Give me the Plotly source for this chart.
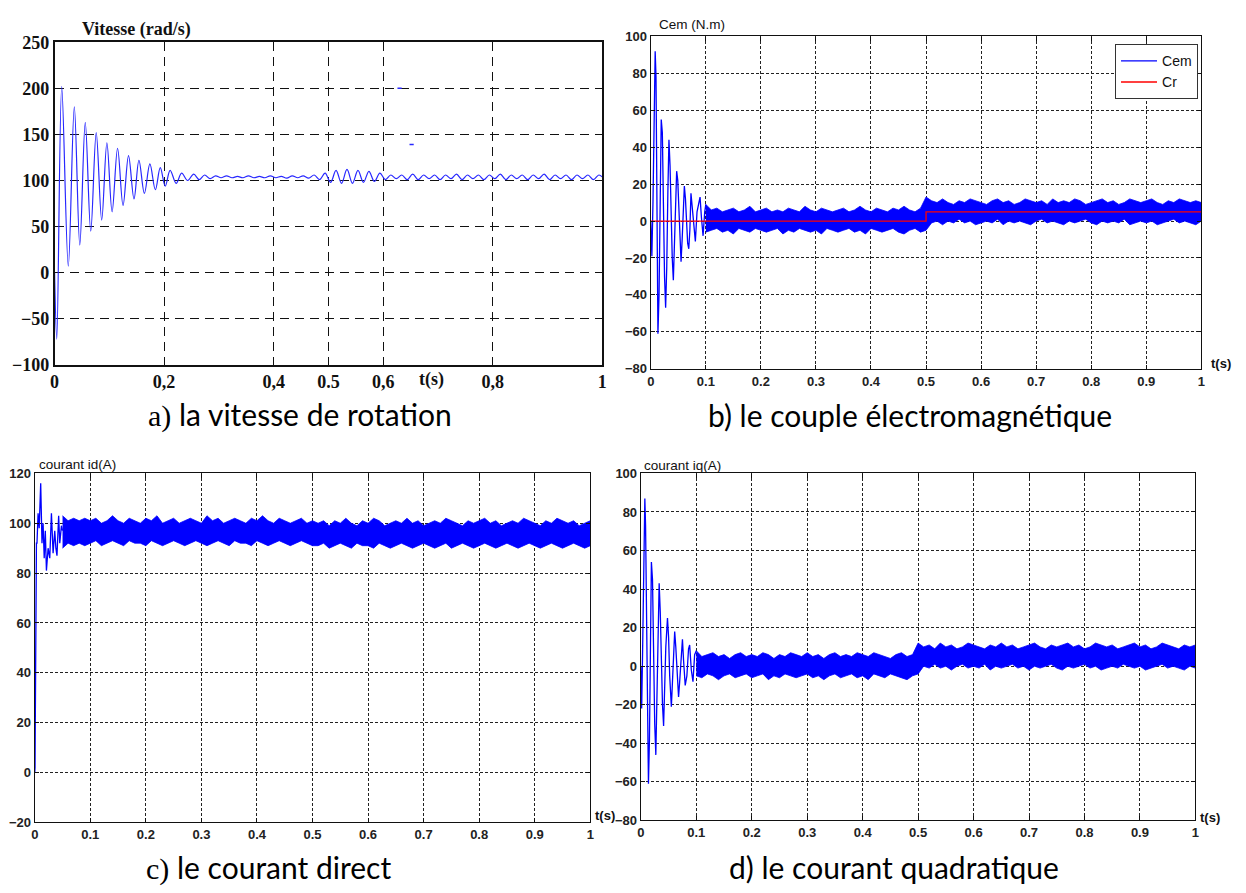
import plotly.graph_objects as go

W, H = 1246, 893

# ---------------- DATA ----------------
# a) speed (rad/s): peaks / troughs
T_A = [0, 0.004, 0.013, 0.025, 0.036, 0.046, 0.056, 0.066, 0.076, 0.086, 0.0955, 0.105,
       0.115, 0.125, 0.135, 0.145, 0.154, 0.164, 0.174, 0.184, 0.193, 0.202, 0.211, 0.222,
       0.232, 0.243, 0.254, 0.264,
       0.274, 0.284, 0.294, 0.304, 0.314, 0.324, 0.334, 0.344, 0.354, 0.364,
       0.374, 0.384, 0.394, 0.404, 0.414, 0.424, 0.434, 0.444, 0.454, 0.464,
       0.474, 0.484, 0.494, 0.504, 0.514, 0.524, 0.534, 0.544, 0.554, 0.564,
       0.574, 0.584, 0.594, 0.604, 0.614, 0.624, 0.634, 0.644, 0.654, 0.664,
       0.674, 0.684, 0.694, 0.704, 0.714, 0.724, 0.734, 0.744, 0.754, 0.764,
       0.774, 0.784, 0.794, 0.804, 0.814, 0.824, 0.834, 0.844, 0.854, 0.864,
       0.874, 0.884, 0.894, 0.904, 0.914, 0.924, 0.934, 0.944, 0.954, 0.964,
       0.974, 0.984, 0.994, 1.0]
W_A = [0, -72, 202, 7, 180, 30, 163, 45, 152, 57, 141, 66,
       135, 73, 127, 80, 122, 86, 118, 90, 114, 94, 111, 97,
       108, 100, 107, 101,
       106, 102, 105, 103, 105, 103, 104.5, 103, 105, 103,
       104.5, 103, 105, 103, 104.5, 102.5, 105, 103, 105, 102.5,
       106, 101, 108, 98, 111, 97, 112, 97, 111, 98,
       110, 99, 108, 101, 106, 102, 106, 101, 107, 101,
       106, 102, 106, 101, 106, 102, 107, 101, 106, 102,
       106, 101, 106, 102, 107, 101, 106, 102, 106, 101,
       106, 102, 107, 101, 106, 102, 106, 101, 106, 102,
       106, 101, 106, 104]
T_A_DOTS = [0.63, 0.652]
W_A_DOTS = [200, 139]

# b) electromagnetic torque (N.m): transient
T_B = [0, 0.002, 0.004, 0.006, 0.008, 0.0095, 0.011, 0.013, 0.015, 0.017, 0.019, 0.021,
       0.023, 0.025, 0.027, 0.029, 0.031, 0.033, 0.035, 0.037, 0.039, 0.041, 0.043, 0.045,
       0.047, 0.049, 0.051, 0.053, 0.055, 0.057, 0.059, 0.061, 0.063, 0.065, 0.067, 0.069,
       0.071, 0.073, 0.075, 0.078, 0.081, 0.084, 0.087, 0.0895, 0.092, 0.095, 0.098, 0.10]
CEM_B = [0, -19, 10, 60, 92, 78, 10, -61, -40, 20, 55, 48,
         5, -30, -47, -25, 15, 44, 30, 0, -20, -32, -15, 10,
         27, 22, 5, -15, -22, -10, 8, 19, 12, 0, -12, -15,
         -5, 15, 8, -2, -11, 5, 10, 13, 2, -8, 5, 9]

# common time grid of the noisy bands (b, d)
T_BAND = [0.10, 0.11, 0.12, 0.13, 0.14, 0.15, 0.16, 0.17, 0.18, 0.19,
          0.20, 0.21, 0.22, 0.23, 0.24, 0.25, 0.26, 0.27, 0.28, 0.29,
          0.30, 0.31, 0.32, 0.33, 0.34, 0.35, 0.36, 0.37, 0.38, 0.39,
          0.40, 0.41, 0.42, 0.43, 0.44, 0.45, 0.46, 0.47, 0.48, 0.49,
          0.50, 0.51, 0.52, 0.53, 0.54, 0.55, 0.56, 0.57, 0.58, 0.59,
          0.60, 0.61, 0.62, 0.63, 0.64, 0.65, 0.66, 0.67, 0.68, 0.69,
          0.70, 0.71, 0.72, 0.73, 0.74, 0.75, 0.76, 0.77, 0.78, 0.79,
          0.80, 0.81, 0.82, 0.83, 0.84, 0.85, 0.86, 0.87, 0.88, 0.89,
          0.90, 0.91, 0.92, 0.93, 0.94, 0.95, 0.96, 0.97, 0.98, 0.99,
          1.00]
CEM_UP = [9, 6, 7, 5, 6, 7, 5, 6, 8, 5,
          6, 7, 5, 6, 5, 7, 6, 5, 8, 6,
          5, 7, 6, 5, 6, 7, 5, 6, 8, 6,
          5, 7, 6, 5, 7, 6, 8, 6, 5, 7,
          13, 11, 10, 12, 10, 9, 11, 10, 12, 11,
          10, 9, 11, 12, 10, 11, 9, 10, 12, 11,
          10, 11, 9, 12, 10, 11, 10, 12, 11, 9,
          10, 11, 12, 10, 11, 9, 10, 12, 11, 10,
          11, 12, 10, 9, 11, 10, 12, 11, 10, 11,
          10]
CEM_LO = [-6, -5, -4, -6, -5, -7, -4, -5, -6, -4,
          -5, -6, -5, -4, -7, -5, -6, -4, -5, -6,
          -5, -7, -4, -5, -6, -5, -4, -6, -5, -7,
          -4, -5, -6, -5, -4, -6, -7, -5, -4, -6,
          -5, -1, 0, -2, 0, -1, 1, -1, 0, -2,
          -1, 0, -1, 1, -2, 0, -1, 0, -1, -2,
          0, 1, -1, 0, -1, -2, 0, -1, 0, 1,
          -1, -2, 0, -1, 0, -1, 1, -2, -1, 0,
          -1, 0, -2, -1, 0, 1, -1, 0, -1, -2,
          0]
T_CR = [0, 0.5, 0.5, 1.0]
CR = [0, 0, 5, 5]

# c) direct current id (A)
T_C = [0, 0.0005, 0.001, 0.0015, 0.002, 0.003, 0.004, 0.006, 0.008, 0.0107, 0.013, 0.015,
       0.017, 0.019, 0.021, 0.024, 0.027, 0.030, 0.033, 0.036, 0.038, 0.040, 0.043, 0.045,
       0.048, 0.050]
ID_C = [0, 2, 22, 63, 63, 92, 92, 104, 98, 116, 92, 100,
        86, 97, 81, 90, 86, 104, 88, 97, 90, 87, 103, 92,
        99, 97]
T_BAND_C = [0.05, 0.06, 0.07, 0.08, 0.09] + T_BAND
ID_UP = [103, 101, 102, 101, 102,
         101, 102, 100, 101, 103, 101, 100, 102, 101, 100,
         102, 101, 103, 100, 101, 102, 100, 101, 102, 101,
         100, 103, 101, 102, 100, 101, 102, 101, 100, 102,
         101, 103, 101, 100, 102, 101, 100, 101, 102, 100,
         101, 100, 101, 99, 101, 100, 102, 100, 99, 101,
         100, 102, 101, 99, 100, 101, 100, 102, 100, 101,
         99, 100, 101, 100, 102, 101, 100, 99, 101, 100,
         101, 102, 100, 101, 99, 100, 101, 100, 102, 101,
         100, 99, 101, 100, 102, 101, 100, 101, 99, 100,
         101]
ID_LO = [90, 92, 91, 92, 91,
         92, 93, 91, 92, 93, 92, 91, 93, 92, 92,
         91, 93, 92, 91, 92, 93, 92, 91, 92, 93,
         92, 91, 92, 93, 92, 91, 93, 92, 92, 91,
         93, 92, 91, 92, 93, 92, 91, 92, 93, 92,
         91, 91, 92, 90, 91, 92, 91, 90, 92, 91,
         91, 90, 92, 91, 90, 91, 92, 91, 90, 91,
         92, 91, 90, 91, 92, 90, 91, 92, 91, 90,
         91, 92, 91, 90, 91, 92, 91, 90, 91, 92,
         91, 90, 91, 92, 91, 90, 91, 92, 91, 90,
         91]

# d) quadrature current iq (A)
T_D = [0, 0.0015, 0.003, 0.005, 0.0072, 0.0085, 0.011, 0.0137, 0.0155, 0.017, 0.019, 0.021,
       0.023, 0.025, 0.027, 0.029, 0.031, 0.033, 0.035, 0.037, 0.039, 0.041, 0.043, 0.045,
       0.048, 0.050, 0.052, 0.055, 0.057, 0.059, 0.061, 0.063, 0.065, 0.068, 0.070, 0.073,
       0.075, 0.077, 0.080, 0.083, 0.086, 0.088, 0.091, 0.094, 0.097, 0.10]
IQ_D = [0, -22, 5, 55, 87, 73, 5, -61, -38, 15, 54, 45,
        0, -30, -46, -20, 15, 43, 28, 0, -20, -31, -12, 10,
        25, 15, -5, -21, -8, 8, 18, 10, -3, -16, -8, 10,
        14, 3, -10, -5, 9, 11, -2, -8, 6, 8]
IQ_UP = [8, 5, 6, 7, 5, 6, 4, 6, 7, 5,
         6, 5, 7, 6, 4, 6, 5, 7, 6, 5,
         7, 5, 6, 4, 6, 7, 5, 6, 5, 7,
         6, 5, 7, 6, 5, 4, 6, 7, 5, 6,
         12, 10, 11, 9, 12, 10, 11, 9, 10, 12,
         11, 10, 9, 11, 10, 12, 10, 11, 9, 10,
         11, 12, 10, 9, 11, 10, 11, 12, 10, 11,
         9, 10, 12, 11, 10, 11, 9, 10, 11, 12,
         10, 11, 9, 10, 12, 11, 10, 9, 11, 10,
         11]
IQ_LO = [-5, -6, -4, -5, -7, -5, -4, -6, -5, -4,
         -6, -5, -4, -7, -5, -6, -4, -5, -6, -5,
         -4, -6, -5, -7, -5, -4, -6, -5, -4, -6,
         -5, -7, -4, -5, -6, -4, -5, -6, -7, -5,
         -4, 0, -1, 1, -1, 0, -2, 0, 1, -1,
         0, -1, 1, -2, 0, -1, 0, 1, -1, 0,
         -2, 0, -1, 0, 1, -1, -2, 0, -1, 0,
         1, -1, 0, -2, -1, 0, -1, 1, 0, -1,
         0, -2, -1, 0, 1, -1, 0, -1, -2, 0,
         -1]

# tick labels
A_XTICKS = [0, 0.2, 0.4, 0.5, 0.6, 0.8, 1]
A_XTEXT = ["0", "0,2", "0,4", "0.5", "0,6", "0,8", "1"]
A_YTICKS = [-100, -50, 0, 50, 100, 150, 200, 250]

# ---------------- LAYOUT HELPERS ----------------
def dx(l, r):
    return [l / W, r / W]

def dy(t, b):
    return [1 - b / H, 1 - t / H]

def px(x, y):
    return x / W, 1 - y / H

BLUE = "rgb(0,0,255)"
SANS = "Liberation Sans, Arial, sans-serif"
SERIF = "Liberation Serif, Times New Roman, serif"

fig = go.Figure()

# a
fig.add_trace(go.Scatter(x=T_A, y=W_A, mode="lines", line=dict(color="rgb(40,40,255)", width=1.2, shape="spline"),
                         showlegend=False, xaxis="x", yaxis="y"))
fig.add_trace(go.Scatter(x=T_A_DOTS, y=W_A_DOTS, mode="markers", marker=dict(color="rgb(40,40,255)", size=3, symbol="line-ew-open", line=dict(width=1.5, color="rgb(40,40,255)")),
                         showlegend=False, xaxis="x", yaxis="y"))

# b
fig.add_trace(go.Scatter(x=T_BAND + T_BAND[::-1], y=CEM_UP + CEM_LO[::-1], mode="lines", fill="toself",
                         fillcolor=BLUE, line=dict(color=BLUE, width=0.8), showlegend=False,
                         xaxis="x2", yaxis="y2", hoverinfo="skip"))
fig.add_trace(go.Scatter(x=T_B, y=CEM_B, mode="lines", line=dict(color=BLUE, width=1.3), name="Cem",
                         xaxis="x2", yaxis="y2"))
fig.add_trace(go.Scatter(x=T_CR, y=CR, mode="lines", line=dict(color="rgb(255,0,0)", width=1.3), name="Cr",
                         xaxis="x2", yaxis="y2"))

# c
fig.add_trace(go.Scatter(x=T_BAND_C + T_BAND_C[::-1], y=ID_UP + ID_LO[::-1], mode="lines", fill="toself",
                         fillcolor=BLUE, line=dict(color=BLUE, width=0.8), showlegend=False,
                         xaxis="x3", yaxis="y3", hoverinfo="skip"))
fig.add_trace(go.Scatter(x=T_C, y=ID_C, mode="lines", line=dict(color=BLUE, width=1.3), showlegend=False,
                         xaxis="x3", yaxis="y3"))

# d
fig.add_trace(go.Scatter(x=T_BAND + T_BAND[::-1], y=IQ_UP + IQ_LO[::-1], mode="lines", fill="toself",
                         fillcolor=BLUE, line=dict(color=BLUE, width=0.8), showlegend=False,
                         xaxis="x4", yaxis="y4", hoverinfo="skip"))
fig.add_trace(go.Scatter(x=T_D, y=IQ_D, mode="lines", line=dict(color=BLUE, width=1.3), showlegend=False,
                         xaxis="x4", yaxis="y4"))

tick_a = dict(family=SERIF, size=18, color="#111", weight="bold")
tick_n = dict(family=SANS, size=13, color="#222", weight="bold")

axis_a = dict(showline=True, mirror=True, linecolor="#111", linewidth=1.5, ticks="",
              showgrid=True, gridcolor="#111", gridwidth=1.3, griddash="9px,6px", zeroline=False,
              tickfont=tick_a)
axis_n = dict(showline=True, mirror="ticks", linecolor="#111", linewidth=1.3, ticks="inside",
              ticklen=4, tickcolor="#111", showgrid=True, gridcolor="#222", gridwidth=1,
              griddash="3px,2px", zeroline=False, tickfont=tick_n)

fig.update_layout(
    width=W, height=H, autosize=False,
    margin=dict(l=0, r=0, t=0, b=0),
    paper_bgcolor="white", plot_bgcolor="white",
    xaxis=dict(axis_a, domain=dx(50, 602), range=[0, 1], tickvals=A_XTICKS, ticktext=A_XTEXT,
               anchor="y"),
    yaxis=dict(axis_a, domain=dy(33, 363), range=[-100, 250], tickvals=A_YTICKS, anchor="x"),
    xaxis2=dict(axis_n, domain=dx(651, 1206), range=[0, 1], dtick=0.1, anchor="y2"),
    yaxis2=dict(axis_n, domain=dy(27, 367), range=[-80, 100], dtick=20, anchor="x2"),
    xaxis3=dict(axis_n, domain=dx(30, 590), range=[0, 1], dtick=0.1, anchor="y3"),
    yaxis3=dict(axis_n, domain=dy(474, 831), range=[-20, 120], dtick=20, anchor="x3"),
    xaxis4=dict(axis_n, domain=dx(641, 1200), range=[0, 1], dtick=0.1, anchor="y4"),
    yaxis4=dict(axis_n, domain=dy(474, 829), range=[-80, 100], dtick=20, anchor="x4"),
    legend=dict(x=1119 / W, y=1 - 35 / H, xanchor="left", yanchor="top", bgcolor="white",
                bordercolor="#333", borderwidth=1, font=dict(family=SANS, size=14, color="#111"),
                itemwidth=36, tracegroupgap=0),
    showlegend=True,
)

ann = []
def add_text(x, y, text, font, xanchor="center"):
    ax, ay = px(x, y)
    ann.append(dict(x=ax, y=ay, xref="paper", yref="paper", text=text, showarrow=False,
                    font=font, xanchor=xanchor, yanchor="middle"))

small = dict(family=SANS, size=13.5, color="#111")
add_text(76, 20, "Vitesse (rad/s)", dict(family=SERIF, size=18, color="#111", weight="bold"), "left")
add_text(430, 378, "t(s)", dict(family=SERIF, size=18, color="#111", weight="bold"))
add_text(657, 15, "Cem (N.m)", small, "left")
add_text(1214, 362, "t(s)", dict(small, size=13, weight="bold"), "left")
add_text(32, 465, "courant id(A)", small, "left")
add_text(593, 824, "t(s)", dict(small, size=13, weight="bold"), "left")
add_text(642, 466, "courant iq(A)", small, "left")
add_text(1203, 826, "t(s)", dict(small, size=13, weight="bold"), "left")

cap = dict(family="Lato, Open Sans, sans-serif", size=30, color="#000")
SER_SPAN = "<span style='font-family:Liberation Serif'>%s</span>"
add_text(297, 414, SER_SPAN % "a)" + " la vitesse de rotation", cap)
add_text(912, 414, "b) le couple électromagnétique", cap)
add_text(266, 877, SER_SPAN % "c)" + " le courant direct", cap)
add_text(896, 877, "d) le courant quadratique", cap)

fig.update_layout(annotations=ann)
fig.write_html("out.html")
